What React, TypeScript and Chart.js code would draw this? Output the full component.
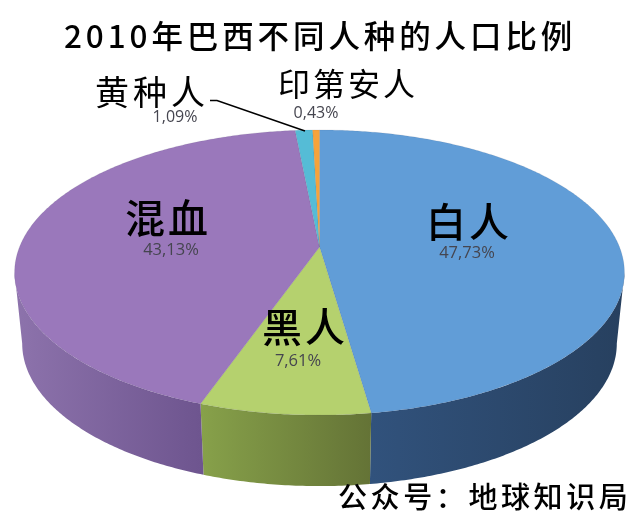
import React, { useEffect, useRef } from "react";
import { Chart, registerables } from "chart.js";

Chart.register(...registerables);

const categories = ["白人", "黑人", "混血", "黄种人", "印第安人"];
const shares = [47.73, 7.61, 43.13, 1.09, 0.43];
const chartTitle = "2010年巴西不同人种的人口比例";
const sourceNote = "公众号：地球知识局";

const topColors = ["#619dd7", "#b5d16e", "#9a78bb", "#55bcd6", "#f6a33b"];
const sideColors: [string, string][] = [
  ["#31527c", "#27405f"],
  ["#87a14a", "#647336"],
  ["#8d73ac", "#6e558f"],
  ["#3f8ea3", "#3f8ea3"],
  ["#b87a2c", "#b87a2c"],
];

const CX = 319.5;
const CY = 247;
const RX = 300;
const RY = 138;
const K = 0.179;
const DEPTH = 71;
const SHRINK = 0.975;
const FONT = '"Noto Sans CJK SC", "Noto Sans", sans-serif';

const project = (a: number): [number, number] => {
  const u = Math.cos(a);
  const v = Math.sin(a);
  const w = 1 - K * v;
  return [CX + (RX * u) / w, CY + (RY * v) / w];
};
const below = (p: [number, number]): [number, number] => [CX + (p[0] - CX) * SHRINK, p[1] + DEPTH];

const labelSlots = [
  { nx: 426, ny: 222, ns: 40, ls: 3, nw: 500, px: 467, py: 253, ps: 16.5 },
  { nx: 262, ny: 327, ns: 40, ls: 3, nw: 500, px: 298, py: 361, ps: 16.5 },
  { nx: 125, ny: 218, ns: 40, ls: 3, nw: 500, px: 171, py: 250, ps: 16.5 },
  { nx: 95, ny: 92, ns: 34, ls: 4, nw: 400, px: 175, py: 117, ps: 16 },
  { nx: 278, ny: 84, ns: 32, ls: 3, nw: 400, px: 316, py: 113, ps: 16 },
];

const piePlugin = {
  id: "perspectivePie",
  beforeDatasetsDraw(chart: any) {
    const ctx = chart.ctx as CanvasRenderingContext2D;
    const arcs = chart.getDatasetMeta(0).data as any[];
    const outline = (s: number, e: number) => {
      const n = Math.max(2, Math.ceil((e - s) / 0.01));
      const pts: [number, number][] = [];
      for (let i = 0; i <= n; i++) pts.push(project(s + ((e - s) * i) / n));
      return pts;
    };
    const wallFrom = Math.asin(K);
    const wallTo = Math.PI - wallFrom;
    ctx.save();
    arcs.forEach((arc, i) => {
      const s = Math.max(arc.startAngle, wallFrom);
      const e = Math.min(arc.endAngle, wallTo);
      if (e <= s) return;
      const pts = outline(s, e);
      const xs = pts.map((p) => p[0]);
      const g = ctx.createLinearGradient(Math.min(...xs), 0, Math.max(...xs), 0);
      g.addColorStop(0, sideColors[i][0]);
      g.addColorStop(1, sideColors[i][1]);
      ctx.fillStyle = g;
      ctx.beginPath();
      pts.forEach((p, j) => (j ? ctx.lineTo(p[0], p[1]) : ctx.moveTo(p[0], p[1])));
      [...pts].reverse().forEach((p) => {
        const b = below(p);
        ctx.lineTo(b[0], b[1]);
      });
      ctx.closePath();
      ctx.fill();
    });
    arcs.forEach((arc, i) => {
      const pts = outline(arc.startAngle, arc.endAngle);
      ctx.fillStyle = topColors[i];
      ctx.strokeStyle = "rgba(60,60,80,0.2)";
      ctx.lineWidth = 0.5;
      ctx.beginPath();
      ctx.moveTo(CX, CY);
      pts.forEach((p) => ctx.lineTo(p[0], p[1]));
      ctx.closePath();
      ctx.fill();
      ctx.stroke();
    });
    ctx.restore();
    return false;
  },
  afterDraw(chart: any) {
    const ctx = chart.ctx as any;
    ctx.save();
    ctx.textBaseline = "middle";
    ctx.fillStyle = "#000";
    ctx.strokeStyle = "#000";
    ctx.lineWidth = 1.5;
    ctx.beginPath();
    ctx.moveTo(210, 100.5);
    ctx.lineTo(217, 100.5);
    ctx.lineTo(305, 131);
    ctx.stroke();

    ctx.textAlign = "left";
    ctx.font = `500 31.5px ${FONT}`;
    ctx.letterSpacing = "3.9px";
    ctx.fillText(chartTitle, 64, 36);
    ctx.letterSpacing = "3.6px";
    ctx.font = `500 29px ${FONT}`;
    ctx.fillText(sourceNote, 338, 497);

    categories.forEach((name, i) => {
      const s = labelSlots[i];
      ctx.textAlign = "left";
      ctx.fillStyle = "#000";
      ctx.letterSpacing = `${s.ls}px`;
      ctx.font = `${s.nw} ${s.ns}px ${FONT}`;
      ctx.fillText(name, s.nx, s.ny);
      ctx.textAlign = "center";
      ctx.letterSpacing = "0px";
      ctx.fillStyle = "#45454f";
      ctx.font = `${s.ps}px "Open Sans", sans-serif`;
      ctx.fillText(shares[i].toFixed(2).replace(".", ",") + "%", s.px, s.py);
    });
    ctx.restore();
  },
};

export default function App() {
  const ref = useRef<HTMLCanvasElement>(null);
  useEffect(() => {
    const chart = new Chart(ref.current as HTMLCanvasElement, {
      type: "pie",
      data: {
        labels: categories,
        datasets: [{ data: shares, backgroundColor: topColors, borderWidth: 0 }],
      },
      options: {
        responsive: false,
        animation: false,
        plugins: { legend: { display: false }, tooltip: { enabled: false }, title: { display: false } },
      },
      plugins: [piePlugin],
    } as any);
    return () => chart.destroy();
  }, []);
  return (
    <canvas
      ref={ref}
      width={640}
      height={519}
      style={{ position: "absolute", left: 0, top: 0, width: 640, height: 519, display: "block", background: "#fff" }}
    />
  );
}
